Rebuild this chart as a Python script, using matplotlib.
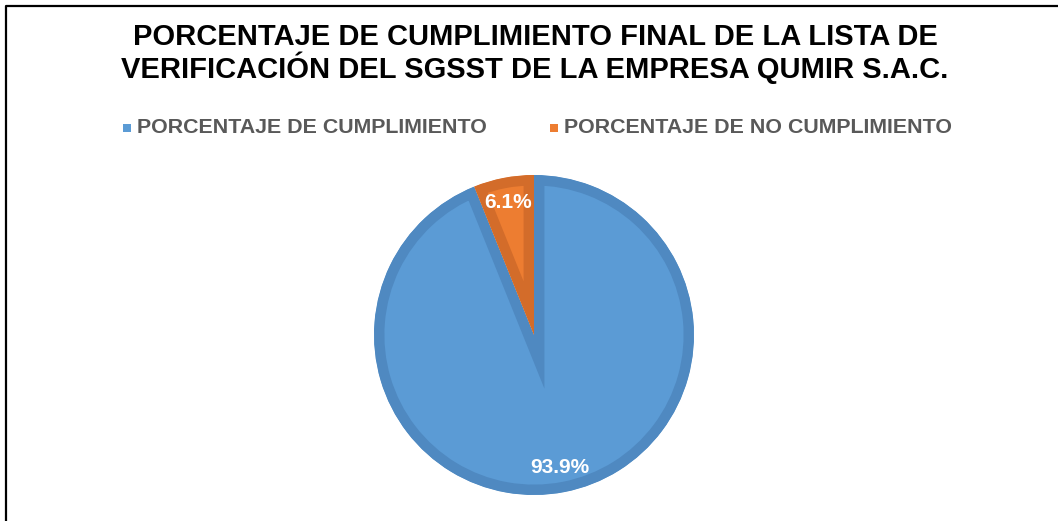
import matplotlib
matplotlib.use("Agg")
import matplotlib.pyplot as plt
from matplotlib.lines import Line2D
from matplotlib.patches import Rectangle

title_lines = ["PORCENTAJE DE CUMPLIMIENTO FINAL DE LA LISTA DE",
               "VERIFICACIÓN DEL SGSST DE LA EMPRESA QUMIR S.A.C."]
categories = ["PORCENTAJE DE CUMPLIMIENTO", "PORCENTAJE DE NO CUMPLIMIENTO"]
values = [93.9, 6.1]
fill_colors = ["#5B9BD5", "#ED7D31"]
edge_colors = ["#4F89C1", "#D36C2A"]

W, H = 1058, 521
fig = plt.figure(figsize=(W / 100, H / 100), dpi=100)
fig.patch.set_facecolor("white")

# Title
fig.text(535 / W, 1 - 37 / H, title_lines[0], ha="center", va="center",
         fontsize=21, fontweight="bold", family="Liberation Sans", color="black")
fig.text(535 / W, 1 - 68 / H, title_lines[1], ha="center", va="center",
         fontsize=21, fontweight="bold", family="Liberation Sans", color="black")

# Pie
cx, cy, r = 534, 335, 160
ax = fig.add_axes([(cx - r) / W, (H - cy - r) / H, 2 * r / W, 2 * r / H])
wedges, texts, autotexts = ax.pie(
    values, colors=fill_colors, startangle=90, counterclock=False,
    autopct="%.1f%%", pctdistance=0.845,
    wedgeprops=dict(linewidth=15, joinstyle="miter"),
    textprops=dict(color="white", fontsize=15, fontweight="bold", family="Liberation Sans"))
for w, ec in zip(wedges, edge_colors):
    w.set_edgecolor(ec)
    w.set_clip_on(True)
    w.set_clip_path(w)
for t in autotexts:
    t.set_zorder(5)
ax.set_xlim(-1, 1)
ax.set_ylim(-1, 1)
ax.set_aspect("equal")
ax.axis("off")

# Legend
leg_y = 1 - 128 / H
legend_x = [127, 554]
for x, cat, col in zip(legend_x, categories, fill_colors):
    fig.patches.append(Rectangle(((x - 4) / W, leg_y - 4 / H), 8 / W, 8 / H,
                                 transform=fig.transFigure, facecolor=col,
                                 edgecolor="none"))
    fig.text((x + 10) / W, leg_y, cat, ha="left", va="center", fontsize=15.4,
             fontweight="bold", family="Liberation Sans", color="#595959")

# Border (top and left)
fig.add_artist(Line2D([6 / W, 6 / W, 1.0], [0.0, 1 - 6 / H, 1 - 6 / H],
                      transform=fig.transFigure, color="black", linewidth=1.6))

fig.savefig("out.png", dpi=100)
